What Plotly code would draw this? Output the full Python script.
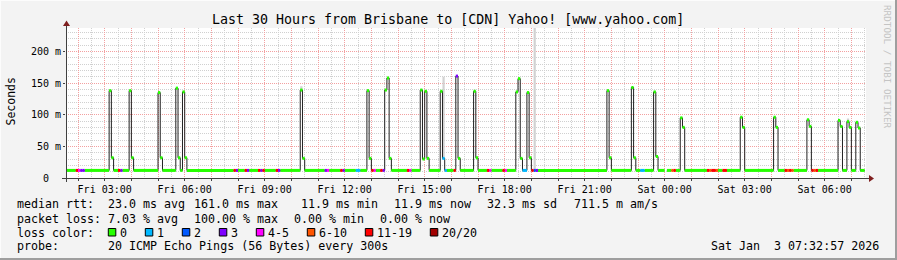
import plotly.graph_objects as go
from datetime import datetime, timedelta

# ---------------- data ----------------
DAY = {"Fri": "2026-01-02", "Sat": "2026-01-03"}

# median rtt step segments: start time, median (ms), loss bin
seg_start = [
    "Fri 01:30", "Fri 01:55", "Fri 02:00", "Fri 02:05", "Fri 02:10", "Fri 02:15",
    "Fri 03:10", "Fri 03:15", "Fri 03:20", "Fri 03:30", "Fri 03:35", "Fri 03:40",
    "Fri 03:55", "Fri 04:00", "Fri 04:05", "Fri 05:00", "Fri 05:05", "Fri 05:10",
    "Fri 05:40", "Fri 05:45", "Fri 05:50", "Fri 05:55", "Fri 06:00", "Fri 06:05",
    "Fri 07:50", "Fri 07:55", "Fri 08:00", "Fri 08:15", "Fri 08:20", "Fri 08:25",
    "Fri 08:45", "Fri 08:50", "Fri 08:55", "Fri 09:00", "Fri 09:25", "Fri 09:30",
    "Fri 09:35", "Fri 10:20", "Fri 10:25", "Fri 10:30", "Fri 11:15", "Fri 11:20",
    "Fri 11:25", "Fri 11:50", "Fri 11:55", "Fri 12:00", "Fri 12:25", "Fri 12:35",
    "Fri 12:50", "Fri 12:55", "Fri 13:00", "Fri 13:05", "Fri 13:10", "Fri 13:20",
    "Fri 13:25", "Fri 13:30", "Fri 13:35", "Fri 13:40", "Fri 13:45", "Fri 14:20",
    "Fri 14:25", "Fri 14:30", "Fri 14:50", "Fri 14:55", "Fri 15:00", "Fri 15:05",
    "Fri 15:10", "Fri 15:35", "Fri 15:40", "Fri 15:45", "Fri 15:50", "Fri 16:05",
    "Fri 16:10", "Fri 16:15", "Fri 16:20", "Fri 16:50", "Fri 16:55", "Fri 17:00",
    "Fri 17:20", "Fri 17:25", "Fri 17:30", "Fri 17:55", "Fri 18:00", "Fri 18:05",
    "Fri 18:25", "Fri 18:30", "Fri 18:35", "Fri 18:40", "Fri 18:50", "Fri 18:55",
    "Fri 19:00", "Fri 19:05", "Fri 19:10", "Fri 19:15", "Fri 21:50", "Fri 21:55",
    "Fri 22:00", "Fri 22:45", "Fri 22:50", "Fri 22:55", "Fri 23:05", "Fri 23:15",
    "Fri 23:35", "Fri 23:40", "Fri 23:45", "Sat 00:00", "Sat 00:05", "Sat 00:15",
    "Sat 00:20", "Sat 00:25", "Sat 00:35", "Sat 00:40", "Sat 00:45", "Sat 01:35",
    "Sat 01:40", "Sat 01:45", "Sat 01:55", "Sat 02:00", "Sat 02:10", "Sat 02:20",
    "Sat 02:50", "Sat 02:55", "Sat 03:00", "Sat 04:05", "Sat 04:10", "Sat 04:15",
    "Sat 04:30", "Sat 04:35", "Sat 04:40", "Sat 04:45", "Sat 04:50", "Sat 05:20",
    "Sat 05:25", "Sat 05:30", "Sat 05:35", "Sat 05:40", "Sat 05:45", "Sat 06:30",
    "Sat 06:35", "Sat 06:40", "Sat 06:50", "Sat 06:55", "Sat 07:00", "Sat 07:10",
    "Sat 07:15", "Sat 07:20",
]
seg_median = [
    12, 12, 12, 12, 12, 12,
    138, 32, 12, 12, 12, 12,
    138, 32, 12, 135, 32, 12,
    142, 32, 12, 136, 32, 12,
    12, 12, 12, 12, 12, 12,
    12, 12, 12, 12, 12, 12,
    12, 139, 31, 12, 12, 12,
    12, 12, 12, 12, 12, 12,
    138, 31, 12, 12, 12, 12,
    12, 139, 158, 31, 12, 12,
    12, 12, 139, 30, 137, 31,
    12, 137, 31, 12, 12, 12,
    161, 31, 12, 137, 32, 12,
    12, 12, 12, 12, 12, 12,
    136, 157, 31, 12, 135, 32,
    12, 12, 12, 12, 138, 32,
    12, 143, 32, 12, 12, 12,
    136, 34, 12, None, 12, 12,
    12, 12, 95, 80, 12, 12,
    12, 12, 12, 12, 12, 12,
    96, 80, 12, 96, 80, 12,
    12, 12, 12, 12, 12, 92,
    81.5, 12, 12, 12, 12, 91,
    81.5, 12, 89, 80, 12, 88,
    79, 12,
]
seg_loss = [
    "0", "11-19", "4-5", "3", "3", "0",
    "0", "0", "0", "11-19", "3", "0",
    "0", "0", "0", "0", "0", "0",
    "0", "0", "0", "0", "0", "0",
    "11-19", "3", "0", "11-19", "3", "0",
    "11-19", "3", "11-19", "0", "11-19", "3",
    "0", "0", "0", "0", "3", "4-5",
    "0", "11-19", "3", "0", "1", "0",
    "0", "0", "11-19", "4-5", "0", "11-19",
    "3", "0", "0", "0", "0", "11-19",
    "4-5", "0", "0", "0", "0", "0",
    "0", "0", "1", "1", "0", "11-19",
    "3", "0", "0", "0", "0", "0",
    "11-19", "4-5", "0", "11-19", "4-5", "0",
    "0", "0", "0", "1", "0", "0",
    "11-19", "2", "3", "0", "0", "0",
    "0", "0", "0", "0", "1", "0",
    "0", "0", "0", "0", "0", "6-10",
    "11-19", "0", "0", "0", "0", "11-19",
    "6-10", "11-19", "6-10", "0", "11-19", "0",
    "0", "0", "0", "0", "0", "0",
    "11-19", "6-10", "11-19", "6-10", "0", "0",
    "0", "11-19", "6-10", "11-19", "0", "0",
    "0", "0", "0", "0", "0", "0",
    "0", "0",
]
seg_end = "Sat 07:30"

# visible smoke (spread of the 20 pings) for a few steps
smoke_start = ["Fri 10:20", "Fri 15:40", "Fri 19:05", "Sat 06:50"]
smoke_low = [136, 32, 12, 88]
smoke_high = [145, 160, 300, 94]

loss_labels = ["0", "1", "2", "3", "4-5", "6-10", "11-19", "20/20"]
loss_colors = ["#26ff00", "#00b8ff", "#0059ff", "#7e00ff", "#ff00ff", "#ff5500", "#ff0000", "#a10000"]

x_labels = ["Fri 03:00", "Fri 06:00", "Fri 09:00", "Fri 12:00", "Fri 15:00",
            "Fri 18:00", "Fri 21:00", "Sat 00:00", "Sat 03:00", "Sat 06:00"]
y_ticks = [0, 50, 100, 150, 200]
y_ticktext = ["0\u00a0\u00a0", "50 m", "100 m", "150 m", "200 m"]

title = "Last 30 Hours from Brisbane to [CDN] Yahoo! [www.yahoo.com]"
legend_rows = [
    [("median rtt:", 16), ("23.0 ms avg", 107.3), ("161.0 ms max", 193.3),
     ("11.9 ms min", 300), ("11.9 ms now", 393.3), ("32.3 ms sd", 486), ("711.5 m am/s", 572.7)],
    [("packet loss:", 16), ("7.03 % avg", 107.3), ("100.00 % max", 193.3),
     ("0.00 % min", 293.3), ("0.00 % now", 379.3)],
    [("loss color:", 16)],
    [("probe:", 16), ("20 ICMP Echo Pings (56 Bytes) every 300s", 107.3)],
]
stamp = "Sat Jan  3 07:32:57 2026"

# ---------------- geometry helpers ----------------
W, H = 897, 260
L, R, T, B = 66, 31, 28, 82
PW, PH = W - L - R, H - T - B
Y_MAX = 237
CHAR = 7.0  # legend character advance (px)


def ts(s):
    d, hm = s.split()
    return datetime.fromisoformat(f"{DAY[d]} {hm}:00")


def px(x):
    return (x - L) / PW


def py(y):
    return (H - B - y) / PH


MONO = "DejaVu Sans Mono"
starts = [ts(s) for s in seg_start]
ends = starts[1:] + [ts(seg_end)]

fig = go.Figure()

# smoke
fig.add_trace(go.Bar(
    x=[ts(s) for s in smoke_start],
    y=[h - l for l, h in zip(smoke_low, smoke_high)],
    base=smoke_low, width=[300000] * len(smoke_start), offset=0,
    marker=dict(color="#d2d2d2", line=dict(width=0)), hoverinfo="skip",
))

# black median step line
fig.add_trace(go.Scatter(
    x=starts + [ts(seg_end)], y=seg_median + [seg_median[-1]],
    mode="lines", line=dict(color="#202020", width=1, shape="hv"),
    connectgaps=False, hoverinfo="skip",
))

# coloured median bands by loss
for lab, col in zip(loss_labels, loss_colors):
    xs, ys = [], []
    for s, e, m, lo in zip(starts, ends, seg_median, seg_loss):
        if lo == lab and m is not None:
            xs += [s, e, None]
            ys += [m, m, None]
    if xs:
        fig.add_trace(go.Scatter(x=xs, y=ys, mode="lines",
                                 line=dict(color=col, width=3), hoverinfo="skip"))

# axes
hour_ticks = []
t = ts("Fri 02:00")
while t <= ts("Sat 07:00"):
    hour_ticks.append(t)
    t += timedelta(hours=1)
lab_map = {ts(s): s for s in x_labels}
fig.update_xaxes(
    type="date", range=[datetime(2026, 1, 2, 1, 32, 57), datetime(2026, 1, 3, 7, 32, 57)],
    tickmode="array", tickvals=hour_ticks, ticktext=[lab_map.get(h, "") for h in hour_ticks],
    showgrid=True, gridcolor="#f3a0a0", griddash="1px,1px", gridwidth=1,
    ticks="outside", ticklen=2, tickcolor="#404040",
    tickfont=dict(family=MONO, size=10, color="#000"),
    minor=dict(dtick=1800000, tick0="2026-01-02 00:00:00", showgrid=True,
               gridcolor="#d0d0d0", griddash="1px,1px", ticks=""),
    showline=False, zeroline=False, fixedrange=True,
)
fig.update_yaxes(
    range=[0, Y_MAX], tickmode="array", tickvals=y_ticks, ticktext=y_ticktext,
    showgrid=True, gridcolor="#f3a0a0", griddash="1px,1px", gridwidth=1,
    ticks="outside", ticklen=2, tickcolor="#404040",
    tickfont=dict(family=MONO, size=10, color="#000"),
    minor=dict(dtick=10, showgrid=True, gridcolor="#d0d0d0", griddash="1px,1px", ticks=""),
    showline=False, zeroline=False, fixedrange=True,
)

shapes = []
AX = "#404040"
ARROW = "#7f1f1f"
shapes.append(dict(type="line", xref="paper", yref="paper", x0=px(62), x1=px(869),
                   y0=py(178.5), y1=py(178.5), line=dict(color=AX, width=1), layer="above"))
shapes.append(dict(type="line", xref="paper", yref="paper", x0=px(66.5), x1=px(66.5),
                   y0=py(182), y1=py(25), line=dict(color=AX, width=1), layer="above"))
shapes.append(dict(type="path", xref="paper", yref="paper",
                   path=f"M {px(869)},{py(175)} L {px(874)},{py(178.5)} L {px(869)},{py(182)} Z",
                   fillcolor=ARROW, line=dict(width=0), layer="above"))
shapes.append(dict(type="path", xref="paper", yref="paper",
                   path=f"M {px(63)},{py(26)} L {px(66.5)},{py(20.5)} L {px(70)},{py(26)} Z",
                   fillcolor=ARROW, line=dict(width=0), layer="above"))
# frame shading
shapes.append(dict(type="rect", xref="paper", yref="paper", x0=px(0), x1=px(W),
                   y0=py(H - 2), y1=py(H), fillcolor="#9e9e9e", line=dict(width=0)))
shapes.append(dict(type="rect", xref="paper", yref="paper", x0=px(W - 2), x1=px(W),
                   y0=py(0), y1=py(H), fillcolor="#9e9e9e", line=dict(width=0)))
shapes.append(dict(type="rect", xref="paper", yref="paper", x0=px(0), x1=px(W - 2),
                   y0=py(0), y1=py(1), fillcolor="#fcfcfc", line=dict(width=0)))
shapes.append(dict(type="rect", xref="paper", yref="paper", x0=px(0), x1=px(1),
                   y0=py(0), y1=py(H - 2), fillcolor="#fcfcfc", line=dict(width=0)))

ann = []
ann.append(dict(text=title, x=px(448), y=py(19.5), xref="paper", yref="paper",
                xanchor="center", yanchor="middle", showarrow=False,
                font=dict(family=MONO, size=13.3, color="#000")))
ann.append(dict(text="Seconds", x=px(10.5), y=py(101), xref="paper", yref="paper",
                xanchor="center", yanchor="middle", showarrow=False, textangle=-90,
                font=dict(family=MONO, size=11.5, color="#000")))
ann.append(dict(text="RRDTOOL / TOBI OETIKER", x=px(888), y=py(67), xref="paper", yref="paper",
                xanchor="center", yanchor="middle", showarrow=False, textangle=90,
                font=dict(family=MONO, size=9.3, color="#c4c4c4")))
row_y = [204.3, 218.5, 232.5, 246.5]
for row, yy in zip(legend_rows, row_y):
    for txt, xx in row:
        ann.append(dict(text=txt.replace(" ", "\u00a0"), x=px(xx), y=py(yy), xref="paper", yref="paper",
                        xanchor="left", yanchor="middle", showarrow=False, borderpad=0,
                        font=dict(family=MONO, size=11.65, color="#000")))
ann.append(dict(text=stamp.replace(" ", "\u00a0"), x=px(880), y=py(row_y[3]), xref="paper", yref="paper",
                xanchor="right", yanchor="middle", showarrow=False, borderpad=0,
                font=dict(family=MONO, size=11.65, color="#000")))
# loss colour legend boxes: each entry is box + label + padding
bx = 108.3
for lab, col in zip(loss_labels, loss_colors):
    shapes.append(dict(type="rect", xref="paper", yref="paper", x0=px(bx), x1=px(bx + 7.5),
                       y0=py(236), y1=py(228.5), fillcolor=col, line=dict(color="#000", width=1)))
    ann.append(dict(text=lab, x=px(bx + 11), y=py(row_y[2]), xref="paper", yref="paper",
                    xanchor="left", yanchor="middle", showarrow=False, borderpad=0,
                    font=dict(family=MONO, size=11.65, color="#000")))
    bx += 30 + CHAR * len(lab)

fig.update_layout(
    width=W, height=H, margin=dict(l=L, r=R, t=T, b=B, pad=0),
    paper_bgcolor="#f3f3f3", plot_bgcolor="#ffffff",
    showlegend=False, barmode="overlay",
    font=dict(family=MONO, size=10, color="#000"),
    shapes=shapes, annotations=ann,
)

fig.write_html("out.html")
